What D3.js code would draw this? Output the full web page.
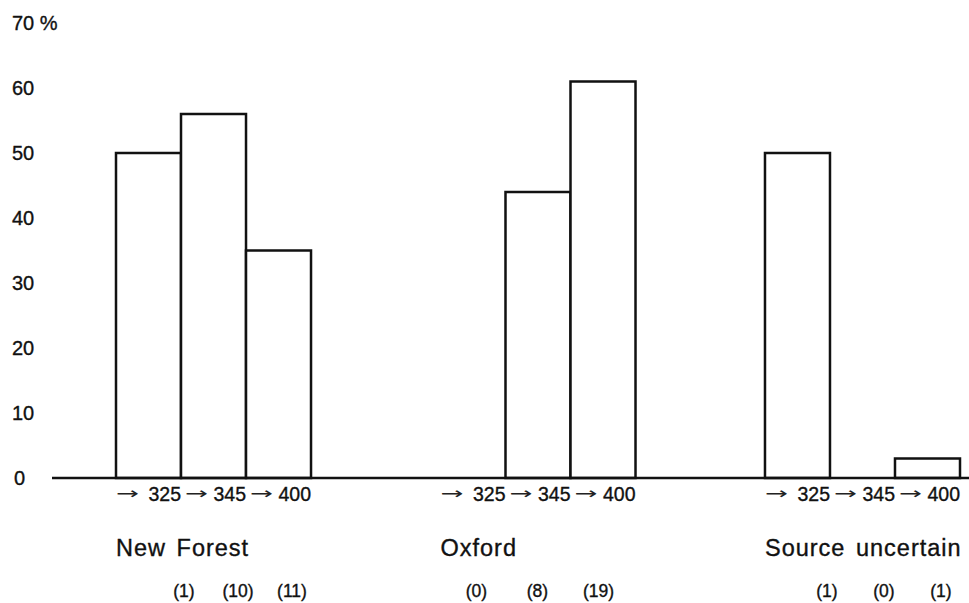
<!DOCTYPE html>
<html>
<head>
<meta charset="utf-8">
<script src="https://cdn.jsdelivr.net/npm/d3@7"></script>
<style>
  html, body { margin: 0; padding: 0; background: #fff; }
  svg { display: block; font-family: "Liberation Sans", Arial, Helvetica, sans-serif; }
  .t { fill: #111; stroke: #111; stroke-width: 0.35px; }
</style>
</head>
<body>
<script>
// ---- data ----
const groups = ["New Forest", "Oxford", "Source uncertain"];
const thresholds = ["325", "345", "400"];
const newForest = [50, 56, 35];
const oxford = [0, 44, 61];
const sourceUncertain = [50, 0, 3];
const countsNewForest = [1, 10, 11];
const countsOxford = [0, 8, 19];
const countsSourceUncertain = [1, 0, 1];
const yTicks = [0, 10, 20, 30, 40, 50, 60, 70];

const seriesValues = [newForest, oxford, sourceUncertain];
const seriesCounts = [countsNewForest, countsOxford, countsSourceUncertain];

// ---- layout ----
const W = 969, H = 603;
const svg = d3.select("body").append("svg").attr("width", W).attr("height", H);

const y = d3.scaleLinear().domain([0, 70]).range([478, 23]);
const xg = d3.scaleBand().domain(groups).range([116, 960]).paddingInner(0.399).paddingOuter(0);
const xb = d3.scaleBand().domain(thresholds).range([0, xg.bandwidth()]).padding(0);

// y tick labels (no axis line in the original)
svg.append("g").selectAll("text").data(yTicks).join("text")
  .attr("class", "t")
  .attr("x", d => d === 0 ? 14 : 12)
  .attr("y", d => y(d))
  .attr("dy", "0.36em")
  .attr("font-size", 20)
  .text(d => d === 70 ? "70 %" : String(d));

// bars
const rows = [];
groups.forEach((g, gi) => thresholds.forEach((t, ti) => {
  rows.push({ g, t, v: seriesValues[gi][ti], c: seriesCounts[gi][ti], gi, ti });
}));

svg.append("g").selectAll("rect").data(rows.filter(d => d.v > 0)).join("rect")
  .attr("x", d => xg(d.g) + xb(d.t))
  .attr("y", d => y(d.v))
  .attr("width", xb.bandwidth())
  .attr("height", d => y(0) - y(d.v))
  .attr("fill", "#fff")
  .attr("stroke", "#111")
  .attr("stroke-width", 2.5);

// baseline
svg.append("line")
  .attr("x1", 52).attr("x2", W)
  .attr("y1", y(0)).attr("y2", y(0))
  .attr("stroke", "#111").attr("stroke-width", 2.5);

// threshold labels "→ 325"
const lab = svg.append("g");
lab.selectAll("text.arrow").data(rows).join("text")
  .attr("class", "arrow")
  .attr("x", d => xg(d.g) + xb(d.t) + (d.ti === 0 ? 0 : 4))
  .attr("y", 499)
  .attr("font-family", "DejaVu Sans, sans-serif")
  .attr("font-size", 16)
  .attr("textLength", 23)
  .attr("lengthAdjust", "spacingAndGlyphs")
  .attr("fill", "#222")
  .text("→");
lab.selectAll("text.num").data(rows).join("text")
  .attr("class", "num t")
  .attr("x", d => xg(d.g) + xb(d.t) + xb.bandwidth())
  .attr("y", 501)
  .attr("text-anchor", "end")
  .attr("font-size", 19.5)
  .text(d => d.t);

// group names
svg.append("g").selectAll("text").data(groups).join("text")
  .attr("class", "t")
  .attr("x", d => xg(d))
  .attr("y", 556)
  .attr("font-size", 23.5)
  .attr("letter-spacing", 1)
  .attr("word-spacing", 3)
  .text(d => d);

// counts
const countStart = [68, 36, 62];
const countStep = [54, 61, 57];
svg.append("g").selectAll("text").data(rows).join("text")
  .attr("class", "t")
  .attr("x", d => xg(d.g) + countStart[d.gi] + d.ti * countStep[d.gi])
  .attr("y", 597)
  .attr("text-anchor", "middle")
  .attr("font-size", 17.5)
  .text(d => `(${d.c})`);
</script>
</body>
</html>
